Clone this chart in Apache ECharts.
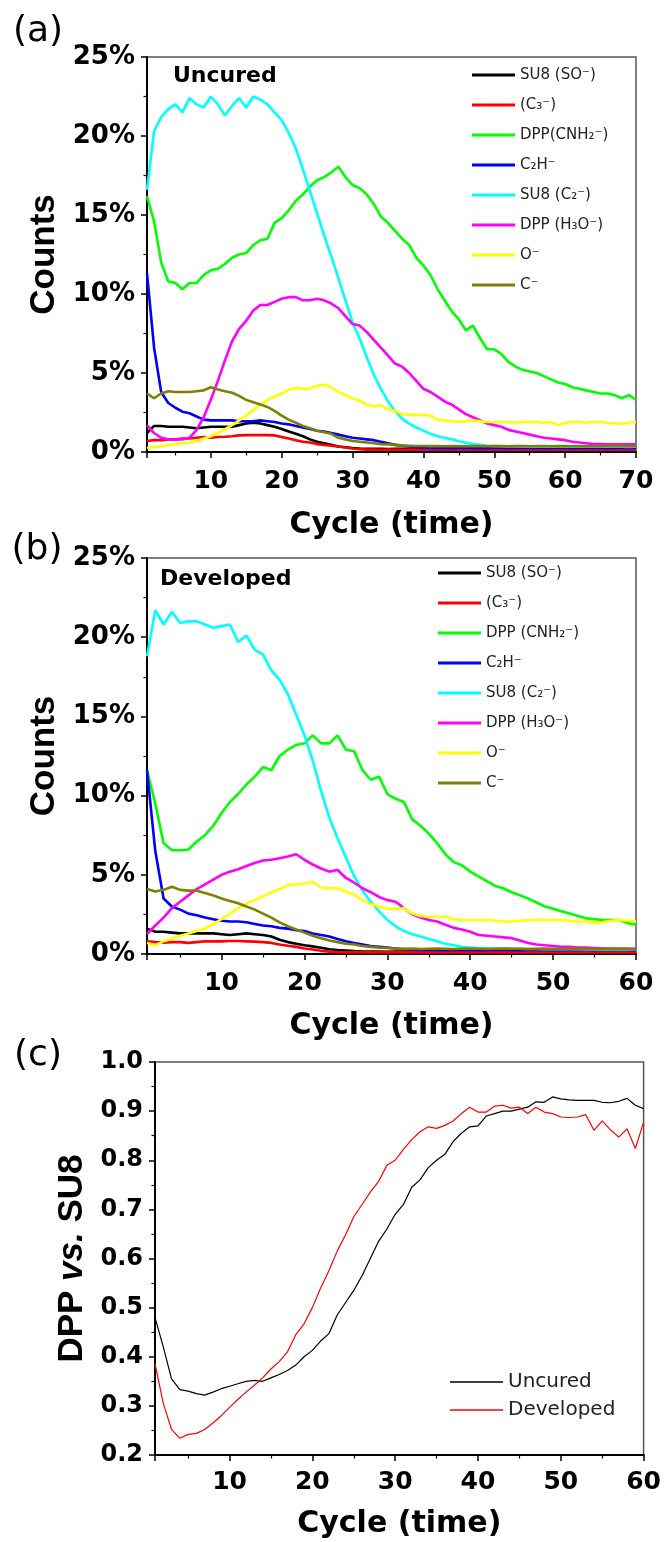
<!DOCTYPE html>
<html>
<head>
<meta charset="utf-8">
<script src="https://cdn.jsdelivr.net/npm/echarts@6.0.0/dist/echarts.min.js"></script>
<style>
html,body{margin:0;padding:0;background:#fff;}
#chart{width:664px;height:1542px;}
</style>
</head>
<body>
<div id="chart"></div>
<script>
// ---------- x values (cycles) ----------
const cyclesA = [1,2,3,4,5,6,7,8,9,10,11,12,13,14,15,16,17,18,19,20,21,22,23,24,25,26,27,28,29,30,31,32,33,34,35,36,37,38,39,40,41,42,43,44,45,46,47,48,49,50,51,52,53,54,55,56,57,58,59,60,61,62,63,64,65,66,67,68,69,70];
const cyclesB = [1,2,3,4,5,6,7,8,9,10,11,12,13,14,15,16,17,18,19,20,21,22,23,24,25,26,27,28,29,30,31,32,33,34,35,36,37,38,39,40,41,42,43,44,45,46,47,48,49,50,51,52,53,54,55,56,57,58,59,60];
const cyclesC = cyclesB;

// ---------- legend names ----------
const namesA = ['SU8 (SO⁻)', '(C₃⁻)', 'DPP(CNH₂⁻)', 'C₂H⁻', 'SU8 (C₂⁻)', 'DPP (H₃O⁻)', 'O⁻', 'C⁻'];
const namesB = ['SU8 (SO⁻)', '(C₃⁻)', 'DPP (CNH₂⁻)', 'C₂H⁻', 'SU8 (C₂⁻)', 'DPP (H₃O⁻)', 'O⁻', 'C⁻'];
const namesC = ['Uncured', 'Developed'];

// ---------- panel (a) Uncured, % counts ----------
const blackA = [1.2,1.65,1.65,1.6,1.6,1.6,1.55,1.5,1.55,1.6, 1.6,1.6,1.6,1.7,1.8,1.85,1.8,1.7,1.6,1.45, 1.3,1.15,1.0,0.8,0.65,0.55,0.45,0.35,0.3,0.25, 0.22,0.2,0.21,0.2,0.19,0.2,0.21,0.2,0.2,0.19, 0.2,0.21,0.2,0.2,0.19,0.2,0.2,0.21,0.2,0.19, 0.2,0.2,0.21,0.2,0.19,0.2,0.2,0.21,0.2,0.2, 0.19,0.2,0.2,0.21,0.2,0.19,0.2,0.2,0.21,0.2];
const redA = [0.7,0.75,0.75,0.8,0.8,0.85,0.85,0.9,0.95,0.9, 0.95,0.97,1.0,1.05,1.07,1.07,1.07,1.07,1.05,0.95, 0.85,0.75,0.65,0.6,0.5,0.45,0.4,0.35,0.28,0.22, 0.18,0.15,0.15,0.14,0.15,0.15,0.14,0.15,0.15,0.14, 0.15,0.15,0.14,0.15,0.15,0.14,0.15,0.15,0.14,0.15, 0.15,0.14,0.15,0.15,0.14,0.15,0.15,0.14,0.15,0.15, 0.14,0.15,0.15,0.14,0.15,0.15,0.14,0.15,0.15,0.14];
const greenA = [16.2,14.6,12.0,10.8,10.7,10.3,10.7,10.7,11.2,11.5, 11.6,11.9,12.3,12.5,12.6,13.1,13.4,13.5,14.5,14.8, 15.3,15.9,16.3,16.8,17.2,17.4,17.7,18.05,17.4,16.9, 16.7,16.3,15.7,14.9,14.5,14.0,13.5,13.1,12.3,11.8, 11.2,10.3,9.6,8.9,8.4,7.7,8.0,7.2,6.5,6.5, 6.2,5.7,5.4,5.2,5.1,5.0,4.8,4.6,4.4,4.3, 4.1,4.0,3.9,3.8,3.7,3.7,3.6,3.4,3.6,3.3];
const blueA = [11.3,6.6,3.8,3.1,2.8,2.55,2.45,2.25,2.05,2.0, 2.0,2.0,2.0,1.95,1.95,1.95,2.0,1.95,1.9,1.8, 1.75,1.65,1.55,1.45,1.35,1.3,1.2,1.1,1.0,0.9, 0.85,0.8,0.75,0.65,0.55,0.45,0.4,0.35,0.3,0.28, 0.26,0.25,0.27,0.24,0.25,0.26,0.25,0.24,0.25,0.26, 0.25,0.24,0.25,0.26,0.25,0.25,0.24,0.25,0.26,0.25, 0.24,0.25,0.25,0.26,0.25,0.24,0.25,0.25,0.24,0.25];
const cyanA = [16.6,20.3,21.2,21.7,22.0,21.5,22.4,22.0,21.8,22.5, 22.0,21.3,21.9,22.4,21.8,22.5,22.3,22.0,21.5,21.0, 20.2,19.2,17.9,16.5,15.1,13.7,12.4,11.0,9.6,8.2, 7.2,6.0,4.9,4.0,3.2,2.6,2.1,1.8,1.55,1.35, 1.15,1.0,0.9,0.8,0.68,0.58,0.5,0.45,0.4,0.38, 0.36,0.35,0.35,0.34,0.35,0.34,0.33,0.35,0.34,0.33, 0.34,0.33,0.34,0.33,0.33,0.34,0.33,0.33,0.32,0.33];
const magentaA = [1.7,1.2,0.9,0.8,0.8,0.8,0.9,1.4,2.2,3.3, 4.5,5.8,7.0,7.8,8.3,8.95,9.3,9.3,9.5,9.7, 9.8,9.8,9.6,9.6,9.7,9.6,9.4,9.1,8.6,8.1, 8.0,7.6,7.1,6.6,6.1,5.6,5.4,5.0,4.5,4.0, 3.8,3.5,3.2,3.0,2.7,2.4,2.2,2.0,1.8,1.7, 1.6,1.4,1.3,1.2,1.1,1.0,0.9,0.85,0.8,0.75, 0.65,0.6,0.55,0.5,0.5,0.48,0.48,0.48,0.48,0.48];
const yellowA = [0.25,0.3,0.35,0.45,0.5,0.55,0.6,0.7,0.85,1.0, 1.2,1.45,1.7,2.0,2.3,2.65,3.0,3.3,3.5,3.7, 3.95,4.05,4.0,4.0,4.2,4.25,4.1,3.8,3.6,3.4, 3.25,3.0,2.9,2.95,2.7,2.6,2.4,2.35,2.35,2.35, 2.3,2.05,2.0,1.95,1.9,1.95,2.0,1.95,1.9,1.9, 1.9,1.9,1.85,1.9,1.9,1.9,1.85,1.9,1.7,1.85, 1.9,1.9,1.85,1.9,1.9,1.85,1.8,1.8,1.85,1.9];
const oliveA = [3.7,3.4,3.7,3.85,3.8,3.8,3.8,3.85,3.9,4.1, 3.95,3.85,3.75,3.55,3.3,3.15,3.0,2.85,2.6,2.3, 2.05,1.85,1.65,1.5,1.35,1.25,1.15,0.9,0.8,0.7, 0.65,0.6,0.55,0.5,0.48,0.45,0.42,0.4,0.38,0.38, 0.37,0.38,0.36,0.38,0.37,0.36,0.38,0.37,0.36,0.37, 0.38,0.36,0.37,0.38,0.36,0.37,0.37,0.36,0.38,0.37, 0.36,0.37,0.38,0.36,0.37,0.36,0.38,0.37,0.36,0.37];

// ---------- panel (b) Developed, % counts ----------
const blackB = [1.6,1.4,1.4,1.35,1.3,1.3,1.3,1.3,1.3,1.25, 1.2,1.25,1.3,1.25,1.2,1.1,0.9,0.75,0.65,0.55, 0.48,0.4,0.3,0.25,0.22,0.18,0.16,0.15,0.15,0.14, 0.15,0.15,0.14,0.15,0.15,0.14,0.15,0.15,0.14,0.15, 0.15,0.14,0.15,0.15,0.14,0.15,0.15,0.14,0.15,0.15, 0.14,0.15,0.15,0.14,0.15,0.15,0.14,0.15,0.15,0.14];
const redB = [0.8,0.75,0.72,0.75,0.75,0.7,0.75,0.8,0.8,0.8, 0.82,0.82,0.8,0.78,0.75,0.7,0.6,0.52,0.45,0.35, 0.28,0.2,0.15,0.12,0.1,0.1,0.1,0.1,0.1,0.1, 0.1,0.1,0.1,0.1,0.1,0.1,0.1,0.1,0.1,0.1, 0.1,0.1,0.1,0.1,0.1,0.1,0.1,0.1,0.1,0.1, 0.1,0.1,0.1,0.1,0.1,0.1,0.1,0.1,0.1,0.1];
const greenB = [11.6,9.5,7.0,6.55,6.55,6.6,7.1,7.5,8.1,8.9, 9.6,10.1,10.7,11.2,11.8,11.6,12.5,12.9,13.2,13.3, 13.8,13.3,13.3,13.8,12.9,12.8,11.6,11.0,11.2,10.1, 9.8,9.6,8.5,8.1,7.6,7.0,6.3,5.8,5.6,5.2, 4.9,4.6,4.3,4.15,3.9,3.7,3.5,3.25,3.0,2.85, 2.7,2.55,2.4,2.25,2.2,2.15,2.15,2.15,1.95,1.85];
const blueB = [11.6,6.5,3.5,3.0,2.8,2.55,2.45,2.3,2.2,2.1, 2.05,2.05,2.0,1.9,1.8,1.75,1.65,1.6,1.5,1.45, 1.3,1.2,1.1,0.95,0.8,0.7,0.6,0.5,0.45,0.4, 0.35,0.3,0.27,0.25,0.26,0.25,0.24,0.25,0.26,0.25, 0.24,0.25,0.25,0.26,0.25,0.24,0.25,0.25,0.26,0.25, 0.24,0.25,0.26,0.25,0.24,0.25,0.25,0.26,0.25,0.24];
const cyanB = [18.8,21.7,20.8,21.6,20.9,21.0,21.0,20.8,20.6,20.7, 20.8,19.7,20.1,19.2,18.9,17.9,17.3,16.4,15.1,13.8, 12.2,10.3,8.6,7.3,6.1,4.9,4.0,3.3,2.7,2.15, 1.75,1.45,1.25,1.1,0.95,0.8,0.65,0.55,0.45,0.4, 0.38,0.36,0.35,0.34,0.33,0.33,0.32,0.32,0.31,0.31, 0.3,0.3,0.3,0.29,0.3,0.29,0.3,0.29,0.29,0.3];
const magentaB = [1.25,1.8,2.3,2.9,3.3,3.7,4.1,4.4,4.7,5.0, 5.2,5.35,5.55,5.75,5.9,5.95,6.05,6.15,6.3,5.95, 5.65,5.4,5.2,5.3,4.8,4.5,4.15,3.9,3.6,3.4, 3.3,2.9,2.5,2.3,2.15,2.05,1.85,1.65,1.55,1.4, 1.2,1.15,1.1,1.05,1.0,0.85,0.7,0.6,0.55,0.5, 0.45,0.45,0.4,0.4,0.38,0.35,0.35,0.33,0.33,0.33];
const yellowB = [0.7,0.55,0.8,0.95,1.15,1.3,1.45,1.6,1.9,2.2, 2.55,2.9,3.2,3.4,3.65,3.9,4.1,4.35,4.4,4.45, 4.55,4.2,4.15,4.15,3.95,3.75,3.4,3.15,3.0,2.85, 2.85,2.9,2.55,2.4,2.35,2.35,2.35,2.2,2.15,2.15, 2.15,2.15,2.1,2.05,2.05,2.1,2.15,2.15,2.15,2.15, 2.15,2.1,2.05,2.05,1.95,2.0,2.1,2.15,2.1,2.05];
const oliveB = [4.1,3.95,4.05,4.25,4.05,4.0,4.0,3.85,3.7,3.5, 3.35,3.2,3.0,2.8,2.55,2.3,2.0,1.75,1.55,1.35, 1.15,1.0,0.85,0.75,0.65,0.6,0.5,0.45,0.4,0.38, 0.34,0.33,0.34,0.32,0.33,0.34,0.33,0.32,0.33,0.34, 0.33,0.32,0.33,0.34,0.33,0.33,0.32,0.33,0.34,0.33, 0.32,0.33,0.34,0.33,0.32,0.33,0.33,0.34,0.33,0.32];

// ---------- panel (c) DPP vs. SU8 ratio ----------
const uncuredC = [0.48,0.42,0.355,0.333,0.33,0.325,0.322,0.328,0.335,0.34, 0.345,0.35,0.352,0.35,0.357,0.364,0.372,0.383,0.4,0.413, 0.432,0.447,0.485,0.51,0.535,0.565,0.6,0.635,0.66,0.69, 0.71,0.745,0.76,0.785,0.8,0.812,0.838,0.855,0.868,0.87, 0.89,0.895,0.9,0.9,0.904,0.908,0.919,0.918,0.929,0.925, 0.923,0.922,0.922,0.922,0.918,0.917,0.92,0.926,0.912,0.905];
const developedC = [0.386,0.305,0.252,0.234,0.242,0.244,0.252,0.265,0.28,0.297, 0.313,0.328,0.342,0.357,0.375,0.39,0.41,0.445,0.467,0.5, 0.54,0.575,0.615,0.648,0.685,0.71,0.735,0.757,0.79,0.8, 0.822,0.842,0.858,0.868,0.865,0.871,0.88,0.895,0.908,0.898, 0.898,0.91,0.912,0.906,0.908,0.895,0.908,0.898,0.895,0.888, 0.887,0.888,0.893,0.861,0.88,0.862,0.847,0.864,0.824,0.877];

const seriesColors = ['#000000', '#ff0000', '#00ff00', '#0000ff', '#00ffff', '#ff00ff', '#ffff00', '#808000'];
const colorsC = ['#000000', '#ff0000'];

const valsA = [blackA, redA, greenA, blueA, cyanA, magentaA, yellowA, oliveA];
const valsB = [blackB, redB, greenB, blueB, cyanB, magentaB, yellowB, oliveB];
const valsC = [uncuredC, developedC];

const FONT = 'DejaVu Sans';
const TITLE_FONT = 'Liberation Sans';

function pairs(xs, ys) { return ys.map((v, i) => [xs[i], v]); }

function xAxis(gi, min, max, margin, gap) {
  return {
    type: 'value', gridIndex: gi, min: min, max: max,
    axisLine: { show: true, onZero: false, lineStyle: { color: '#000', width: 2 } },
    axisTick: { show: true, length: 6, lineStyle: { color: '#000', width: 1.5 } },
    minorTick: { show: true, splitNumber: 2, length: 3.5, lineStyle: { color: '#000', width: 1.2 } },
    splitLine: { show: false },
    axisLabel: { margin: margin, color: '#000', fontFamily: FONT, fontWeight: 'bold', fontSize: 25,
      formatter: v => (v % 10 === 0 ? String(v) : '') },
    name: 'Cycle (time)', nameLocation: 'middle', nameGap: gap,
    nameTextStyle: { fontFamily: FONT, fontWeight: 'bold', fontSize: 30, color: '#000' }
  };
}

function yAxisPct(gi) {
  return {
    type: 'value', gridIndex: gi, min: 0, max: 25, interval: 5,
    axisLine: { show: true, onZero: false, lineStyle: { color: '#000', width: 2 } },
    axisTick: { show: true, length: 6, lineStyle: { color: '#000', width: 1.5 } },
    minorTick: { show: true, splitNumber: 2, length: 3.5, lineStyle: { color: '#000', width: 1.2 } },
    splitLine: { show: false },
    axisLabel: { margin: 12, color: '#000', fontFamily: FONT, fontWeight: 'bold', fontSize: 26, formatter: '{value}%' },
    name: 'Counts', nameLocation: 'middle', nameGap: 82, nameRotate: 90,
    nameTextStyle: { fontFamily: TITLE_FONT, fontWeight: 'bold', fontSize: 35, color: '#000' }
  };
}

const grids = [
  { left: 147, top: 57, width: 489, height: 395 },
  { left: 147, top: 558, width: 489, height: 396 },
  { left: 155, top: 1062, width: 492, height: 393 }
].map(g => Object.assign(g, { show: true, borderColor: '#555', borderWidth: 1.5, backgroundColor: 'transparent' }));

const series = [];
namesA.forEach((n, i) => series.push({
  name: n, type: 'line', xAxisIndex: 0, yAxisIndex: 0, data: pairs(cyclesA, valsA[i]),
  showSymbol: false, symbol: 'none', itemStyle: { color: seriesColors[i] },
  lineStyle: { color: seriesColors[i], width: 2.6 }
}));
namesB.forEach((n, i) => series.push({
  name: n, type: 'line', xAxisIndex: 1, yAxisIndex: 1, data: pairs(cyclesB, valsB[i]),
  showSymbol: false, symbol: 'none', itemStyle: { color: seriesColors[i] },
  lineStyle: { color: seriesColors[i], width: 2.6 }
}));
namesC.forEach((n, i) => series.push({
  name: n, type: 'line', xAxisIndex: 2, yAxisIndex: 2, data: pairs(cyclesC, valsC[i]),
  showSymbol: false, symbol: 'none', itemStyle: { color: colorsC[i] },
  lineStyle: { color: colorsC[i], width: 1.2 }
}));

function legendAB(left, top, names) {
  return {
    orient: 'vertical', left: left, top: top, padding: 0, icon: 'rect',
    itemWidth: 43, itemHeight: 3, itemGap: 14, selectedMode: false,
    textStyle: { fontFamily: FONT, fontSize: 15, lineHeight: 16, color: '#222' },
    data: names
  };
}

function label(text, x, y, font) {
  return { type: 'text', x: x, y: y, silent: true,
    style: { text: text, font: font, fill: '#000', textAlign: 'center', textVerticalAlign: 'middle', align: 'center', verticalAlign: 'middle' } };
}
function labelLeft(text, x, y, font) {
  return { type: 'text', x: x, y: y, silent: true,
    style: { text: text, font: font, fill: '#000', textAlign: 'left', textVerticalAlign: 'middle', align: 'left', verticalAlign: 'middle' } };
}

const option = {
  animation: false,
  backgroundColor: '#fff',
  grid: grids,
  xAxis: [xAxis(0, 1, 70, 17, 58), xAxis(1, 1, 60, 17, 57), xAxis(2, 1, 60, 15, 54)],
  yAxis: [yAxisPct(0), yAxisPct(1), {
    type: 'value', gridIndex: 2, min: 0.2, max: 1.0, interval: 0.1,
    axisLine: { show: true, onZero: false, lineStyle: { color: '#000', width: 2 } },
    axisTick: { show: true, length: 6, lineStyle: { color: '#000', width: 1.5 } },
    minorTick: { show: true, splitNumber: 2, length: 3.5, lineStyle: { color: '#000', width: 1.2 } },
    splitLine: { show: false },
    axisLabel: { margin: 12, color: '#000', fontFamily: FONT, fontWeight: 'bold', fontSize: 24, formatter: v => v.toFixed(1) },
    name: '{b|DPP }{i|vs.}{b| SU8}', nameLocation: 'middle', nameGap: 62, nameRotate: 90,
    nameTextStyle: { rich: {
      b: { fontFamily: TITLE_FONT, fontWeight: 'bold', fontSize: 35, color: '#000' },
      i: { fontFamily: TITLE_FONT, fontWeight: 'bold', fontStyle: 'italic', fontSize: 35, color: '#000' }
    } }
  }],
  legend: [
    legendAB(472, 67, namesA),
    legendAB(438, 565, namesB),
    { orient: 'vertical', left: 450, top: 1371, padding: 0, icon: 'rect',
      itemWidth: 53, itemHeight: 1.5, itemGap: 6, selectedMode: false,
      textStyle: { fontFamily: FONT, fontSize: 20, lineHeight: 22, color: '#222' },
      data: namesC }
  ],
  graphic: [
    label('(a)', 38, 32, '36px "DejaVu Sans"'),
    label('(b)', 37, 550, '36px "DejaVu Sans"'),
    label('(c)', 38, 1056, '36px "DejaVu Sans"'),
    labelLeft('Uncured', 173, 76, 'bold 22px "DejaVu Sans"'),
    labelLeft('Developed', 160, 579, 'bold 22px "DejaVu Sans"')
  ],
  series: series
};

const chart = echarts.init(document.getElementById('chart'), null, { renderer: 'canvas' });
chart.setOption(option);
</script>
</body>
</html>
